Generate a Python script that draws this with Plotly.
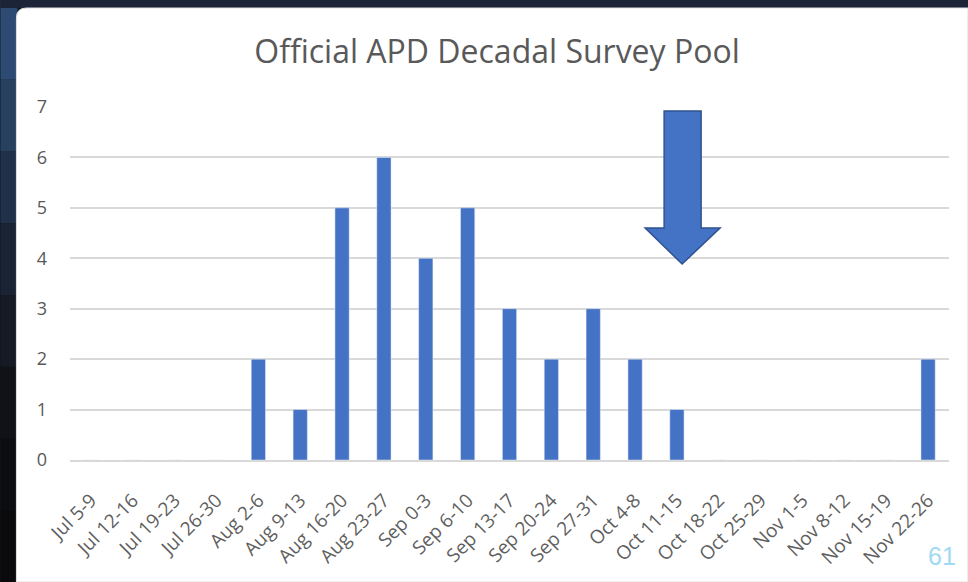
import plotly.graph_objects as go

categories = ["Jul 5-9", "Jul 12-16", "Jul 19-23", "Jul 26-30", "Aug 2-6", "Aug 9-13",
              "Aug 16-20", "Aug 23-27", "Sep 0-3", "Sep 6-10", "Sep 13-17", "Sep 20-24",
              "Sep 27-31", "Oct 4-8", "Oct 11-15", "Oct 18-22", "Oct 25-29", "Nov 1-5",
              "Nov 8-12", "Nov 15-19", "Nov 22-26"]
counts = [0, 0, 0, 0, 2, 1, 5, 6, 4, 5, 3, 2, 3, 2, 1, 0, 0, 0, 0, 0, 2]
y_ticks = [0, 1, 2, 3, 4, 5, 6, 7]

W, H = 968, 582
L, R, T, B = 69.6, 19, 107, 122
PW, PH = W - L - R, H - T - B

def px(x):
    return (x - L) / PW

def py(y):
    return (H - B - y) / PH

FONT = "Open Sans"
GRAY = "#595959"

fig = go.Figure(go.Bar(x=categories, y=counts, marker_color="#4472C4", width=0.34))

shapes = []
grad = ["#2d4a72", "#27405f", "#1f3048", "#1a2334", "#151a24", "#101218", "#0c0d10", "#0a0a0c"]
n = len(grad)
for i, c in enumerate(grad):
    shapes.append(dict(type="rect", xref="paper", yref="paper", layer="below",
                       x0=px(0), x1=px(17),
                       y0=py(8 + (H - 8) * (i + 1) / n), y1=py(8 + (H - 8) * i / n) if i else py(0),
                       fillcolor=c, line_width=0))
shapes.append(dict(type="rect", xref="paper", yref="paper", layer="below",
                   x0=px(0), x1=px(W), y0=py(8), y1=py(0), fillcolor="#1c2438", line_width=0))
r = 10
path = (f"M {px(16)},{py(8 + r)} Q {px(16)},{py(8)} {px(16 + r)},{py(8)} "
        f"L {px(W)},{py(8)} L {px(W)},{py(H)} L {px(16)},{py(H)} Z")
shapes.append(dict(type="path", path=path, xref="paper", yref="paper", layer="below",
                   fillcolor="white", line=dict(color="#e0e0e0", width=1)))
ax = [(664, 111), (701, 111), (701, 228), (720, 228), (682, 264), (645, 228), (664, 228)]
arrow = "M " + " L ".join(f"{px(a)},{py(b)}" for a, b in ax) + " Z"
shapes.append(dict(type="path", path=arrow, xref="paper", yref="paper", layer="above",
                   fillcolor="#4472C4", line=dict(color="#2F528F", width=1.5)))

fig.update_layout(
    width=W, height=H,
    margin=dict(l=L, r=R, t=T, b=B, autoexpand=False),
    paper_bgcolor="#12161f",
    plot_bgcolor="rgba(0,0,0,0)",
    shapes=shapes,
    showlegend=False,
    title=dict(text="Official APD Decadal Survey Pool", x=497 / W, xanchor="center",
               y=1 - 52 / H, yanchor="middle", automargin=False,
               font=dict(family=FONT, size=32, color=GRAY)),
    font=dict(family=FONT, color=GRAY),
    xaxis=dict(type="category", range=[-0.5, 20.5], tickangle=-45, showgrid=False,
               showline=True, linecolor="#d9d9d9", linewidth=1.5, ticks="", automargin=False,
               tickfont=dict(family=FONT, size=19, color="#5f5f5f"), ticklabelstandoff=20),
    yaxis=dict(range=[0, 7], tickvals=y_ticks, showgrid=True, gridcolor="#d9d9d9", gridwidth=1.5,
               zeroline=False, showline=False, ticks="", automargin=False,
               tickfont=dict(family=FONT, size=18, color=GRAY), ticklabelstandoff=22),
    annotations=[dict(text="61", xref="paper", yref="paper", x=px(958), y=py(556),
                      xanchor="right", yanchor="middle", showarrow=False,
                      font=dict(family="Liberation Sans", size=25, color="#9fd9f2"))],
)

fig.write_html("out.html", config={"displayModeBar": False},
               post_script="document.body.style.margin='0';document.body.style.overflow='hidden';")
